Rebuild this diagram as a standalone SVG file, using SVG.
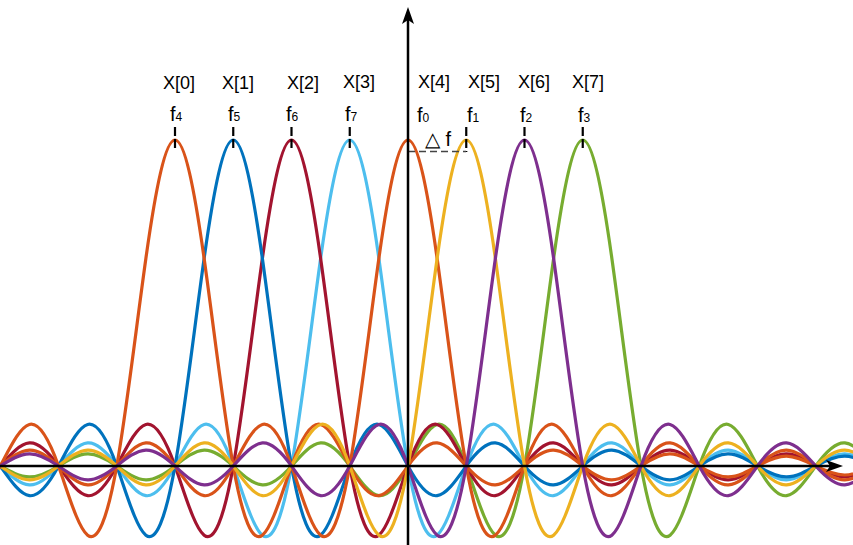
<svg xmlns="http://www.w3.org/2000/svg" xmlns:xlink="http://www.w3.org/1999/xlink" width="853" height="545" viewBox="0 0 853 545">
<style>
.c{fill:none;stroke-width:3.2;stroke-linejoin:round}
.lbl{font-family:"Liberation Sans",Arial,sans-serif;font-size:18px;fill:#000}
.fl{font-family:"Liberation Sans",Arial,sans-serif;font-size:20px;fill:#000}
.sub{font-size:12px}
.tick{stroke:#000;stroke-width:2.2;stroke-dasharray:9 3}
.axis{stroke:#000;stroke-width:2.5;fill:none}
</style>
<defs>
<path id="sinc" d="M -699,0 C -689.292,4.53 -679.583,8.89 -669.875,9.02 C -660.167,9.15 -650.458,4.94 -640.75,0 C -631.042,-4.94 -621.333,-9.72 -611.625,-9.88 C -601.917,-10.04 -592.208,-5.43 -582.5,0 C -572.792,5.43 -563.083,10.73 -553.375,10.92 C -543.667,11.11 -533.958,6.04 -524.25,0 C -514.542,-6.04 -504.833,-11.97 -495.125,-12.21 C -485.417,-12.45 -475.708,-6.79 -466,0 C -456.292,6.79 -446.583,13.53 -436.875,13.84 C -427.167,14.15 -417.458,7.76 -407.75,0 C -398.042,-7.76 -388.333,-15.55 -378.625,-15.96 C -368.917,-16.37 -359.208,-9.06 -349.5,0 C -339.792,9.06 -330.083,18.30 -320.375,18.87 C -310.667,19.44 -300.958,10.87 -291.25,0 C -281.542,-10.87 -271.833,-22.21 -262.125,-23.06 C -252.417,-23.91 -242.708,-13.58 -233,0 C -223.292,13.58 -213.583,28.24 -203.875,29.65 C -194.167,31.06 -184.458,18.11 -174.75,0 C -165.042,-18.11 -155.333,-38.74 -145.625,-41.51 C -135.917,-44.28 -126.208,-27.17 -116.5,0 C -106.792,27.17 -97.083,61.49 -87.375,69.18 C -77.667,76.87 -67.958,54.33 -58.25,0 C -48.542,-54.33 -38.833,-138.36 -29.125,-207.54 C -19.417,-276.72 -9.708,-326 0,-326 C 9.708,-326 19.417,-276.72 29.125,-207.54 C 38.833,-138.36 48.542,-54.33 58.25,0 C 67.958,54.33 77.667,76.87 87.375,69.18 C 97.083,61.49 106.792,27.17 116.5,0 C 126.208,-27.17 135.917,-44.28 145.625,-41.51 C 155.333,-38.74 165.042,-18.11 174.75,0 C 184.458,18.11 194.167,31.06 203.875,29.65 C 213.583,28.24 223.292,13.58 233,0 C 242.708,-13.58 252.417,-23.91 262.125,-23.06 C 271.833,-22.21 281.542,-10.87 291.25,0 C 300.958,10.87 310.667,19.44 320.375,18.87 C 330.083,18.30 339.792,9.06 349.5,0 C 359.208,-9.06 368.917,-16.37 378.625,-15.96 C 388.333,-15.55 398.042,-7.76 407.75,0 C 417.458,7.76 427.167,14.15 436.875,13.84 C 446.583,13.53 456.292,6.79 466,0 C 475.708,-6.79 485.417,-12.45 495.125,-12.21 C 504.833,-11.97 514.542,-6.04 524.25,0 C 533.958,6.04 543.667,11.11 553.375,10.92 C 563.083,10.73 572.792,5.43 582.5,0 C 592.208,-5.43 601.917,-10.04 611.625,-9.88 C 621.333,-9.72 631.042,-4.94 640.75,0 C 650.458,4.94 660.167,9.15 669.875,9.02 C 679.583,8.89 689.292,4.53 699,0"/>
</defs>
<rect width="853" height="545" fill="#fff"/>
<g id="curves">
<use id="s7" xlink:href="#sinc" href="#sinc" class="c" stroke="#77AC30" transform="translate(582.75,466)"/>
<use id="s3" xlink:href="#sinc" href="#sinc" class="c" stroke="#4DBEEE" transform="translate(349.75,466)"/>
<use id="s2" xlink:href="#sinc" href="#sinc" class="c" stroke="#A2142F" transform="translate(291.5,466)"/>
<use id="s1" xlink:href="#sinc" href="#sinc" class="c" stroke="#0072BD" transform="translate(233.25,466)"/>
<use id="s0" xlink:href="#sinc" href="#sinc" class="c" stroke="#D95319" transform="translate(175,466)"/>
<use id="s4" xlink:href="#sinc" href="#sinc" class="c" stroke="#D95319" transform="translate(408,466)"/>
<use id="s5" xlink:href="#sinc" href="#sinc" class="c" stroke="#EDB120" transform="translate(466.25,466)"/>
<use id="s6" xlink:href="#sinc" href="#sinc" class="c" stroke="#7E2F8E" transform="translate(524.5,466)"/>
</g>
<g id="ticks">
<line class="tick" x1="175" y1="127" x2="175" y2="150"/>
<line class="tick" x1="233.25" y1="127" x2="233.25" y2="150"/>
<line class="tick" x1="291.5" y1="127" x2="291.5" y2="150"/>
<line class="tick" x1="349.75" y1="127" x2="349.75" y2="150"/>
<line class="tick" x1="466.25" y1="127" x2="466.25" y2="152"/>
<line class="tick" x1="524.5" y1="127" x2="524.5" y2="150"/>
<line class="tick" x1="582.75" y1="127" x2="582.75" y2="150"/>
<line x1="408" y1="151.5" x2="466" y2="151.5" stroke="#444" stroke-width="1.5" stroke-dasharray="7 4"/>
</g>
<g id="axes">
<line class="axis" x1="0" y1="466" x2="830" y2="466"/>
<polygon points="843,466 826,460 830,466 826,472" fill="#000"/>
<line class="axis" x1="408" y1="545" x2="408" y2="20"/>
<polygon points="408,7 402,24 408,20 414,24" fill="#000"/>
</g>
<g id="labels">
<text class="lbl" x="163" y="89">X[0]</text>
<text class="lbl" x="222" y="89">X[1]</text>
<text class="lbl" x="287" y="89">X[2]</text>
<text class="lbl" x="343" y="88">X[3]</text>
<text class="lbl" x="418" y="88">X[4]</text>
<text class="lbl" x="468" y="88">X[5]</text>
<text class="lbl" x="518" y="88">X[6]</text>
<text class="lbl" x="572" y="88">X[7]</text>
<text class="fl" x="170" y="121">f<tspan class="sub">4</tspan></text>
<text class="fl" x="228" y="121">f<tspan class="sub">5</tspan></text>
<text class="fl" x="286" y="121">f<tspan class="sub">6</tspan></text>
<text class="fl" x="345" y="121">f<tspan class="sub">7</tspan></text>
<text class="fl" x="417" y="122">f<tspan class="sub">0</tspan></text>
<text class="fl" x="467" y="122">f<tspan class="sub">1</tspan></text>
<text class="fl" x="520" y="122">f<tspan class="sub">2</tspan></text>
<text class="fl" x="578" y="122">f<tspan class="sub">3</tspan></text>
<text class="fl" x="425" y="146">△ f</text>
</g>
</svg>
